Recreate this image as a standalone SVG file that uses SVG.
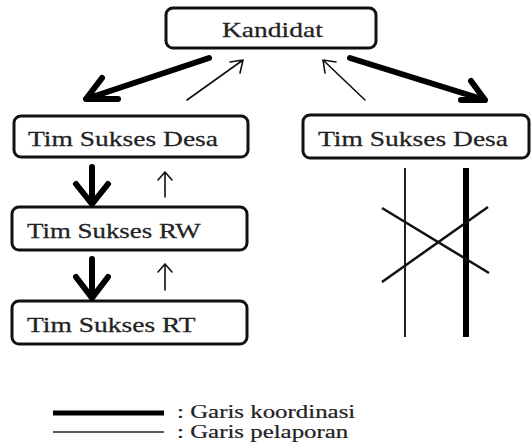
<svg xmlns="http://www.w3.org/2000/svg" width="531" height="446" viewBox="0 0 531 446">
<style>
.box{fill:#fff;stroke:#111;stroke-width:3}
.lbl{font-family:"Liberation Serif","Times New Roman",serif;font-size:21px;fill:#222;stroke:#222;stroke-width:0.25}
.leg{font-family:"Liberation Serif","Times New Roman",serif;font-size:19px;fill:#222;stroke:#222;stroke-width:0.2}
.thick{fill:none;stroke:#000;stroke-width:6;stroke-linecap:round;stroke-linejoin:round}
.thin{fill:none;stroke:#111;stroke-width:1.6;stroke-linecap:round;stroke-linejoin:round}
</style>
<rect width="531" height="446" fill="#fff"/>
<g id="kandidat">
<rect class="box" x="166" y="8" width="210" height="40" rx="7"/>
<text class="lbl" transform="translate(222,37) scale(1.31,1)">Kandidat</text>
</g>
<g id="desa-left">
<rect class="box" x="14" y="116" width="234" height="41" rx="7"/>
<text class="lbl" transform="translate(28,146) scale(1.31,1)">Tim Sukses Desa</text>
</g>
<g id="desa-right">
<rect class="box" x="303" y="115" width="226" height="43" rx="7"/>
<text class="lbl" transform="translate(318,146) scale(1.31,1)">Tim Sukses Desa</text>
</g>
<g id="rw">
<rect class="box" x="12" y="207" width="235" height="43" rx="7"/>
<text class="lbl" transform="translate(27,238) scale(1.28,1)">Tim Sukses RW</text>
</g>
<g id="rt">
<rect class="box" x="12" y="301" width="235" height="43" rx="7"/>
<text class="lbl" transform="translate(27,332) scale(1.31,1)">Tim Sukses RT</text>
</g>
<g id="connectors">
<path class="thick" d="M209,58 L86,99 M118,99 L86,99 L102,78"/>
<path class="thin" d="M187,100 L243,60 M230,62 L243,60 L240,73"/>
<path class="thin" d="M365,100 L323,60 M325,73 L323,60 L336,62"/>
<path class="thick" d="M350,58 L485,100 M461,100 L485,100 L471,81"/>
<path class="thick" d="M92,167 L92,204 M76,184 L92,204 L108,184"/>
<path class="thick" d="M92,259 L92,298 M76,277 L92,298 L108,277"/>
<path class="thin" d="M165,197 L165,172 M158,180 L165,172 L172,180"/>
<path class="thin" d="M165,290 L165,264 M158,272 L165,264 L172,272"/>
</g>
<g id="cut-lines">
<line x1="405" y1="168" x2="405" y2="337" stroke="#222" stroke-width="2"/>
<line x1="466" y1="168" x2="466" y2="337" stroke="#000" stroke-width="6"/>
<line x1="382" y1="208" x2="489" y2="273" stroke="#111" stroke-width="2.5"/>
<line x1="382" y1="282" x2="488" y2="207" stroke="#111" stroke-width="2.5"/>
</g>
<g id="legend">
<line x1="53" y1="413" x2="164" y2="413" stroke="#000" stroke-width="5"/>
<line x1="53" y1="432" x2="164" y2="432" stroke="#222" stroke-width="1.5"/>
<text class="leg" transform="translate(177,418) scale(1.31,1)">: Garis koordinasi</text>
<text class="leg" transform="translate(177,438) scale(1.31,1)">: Garis pelaporan</text>
</g>
</svg>
